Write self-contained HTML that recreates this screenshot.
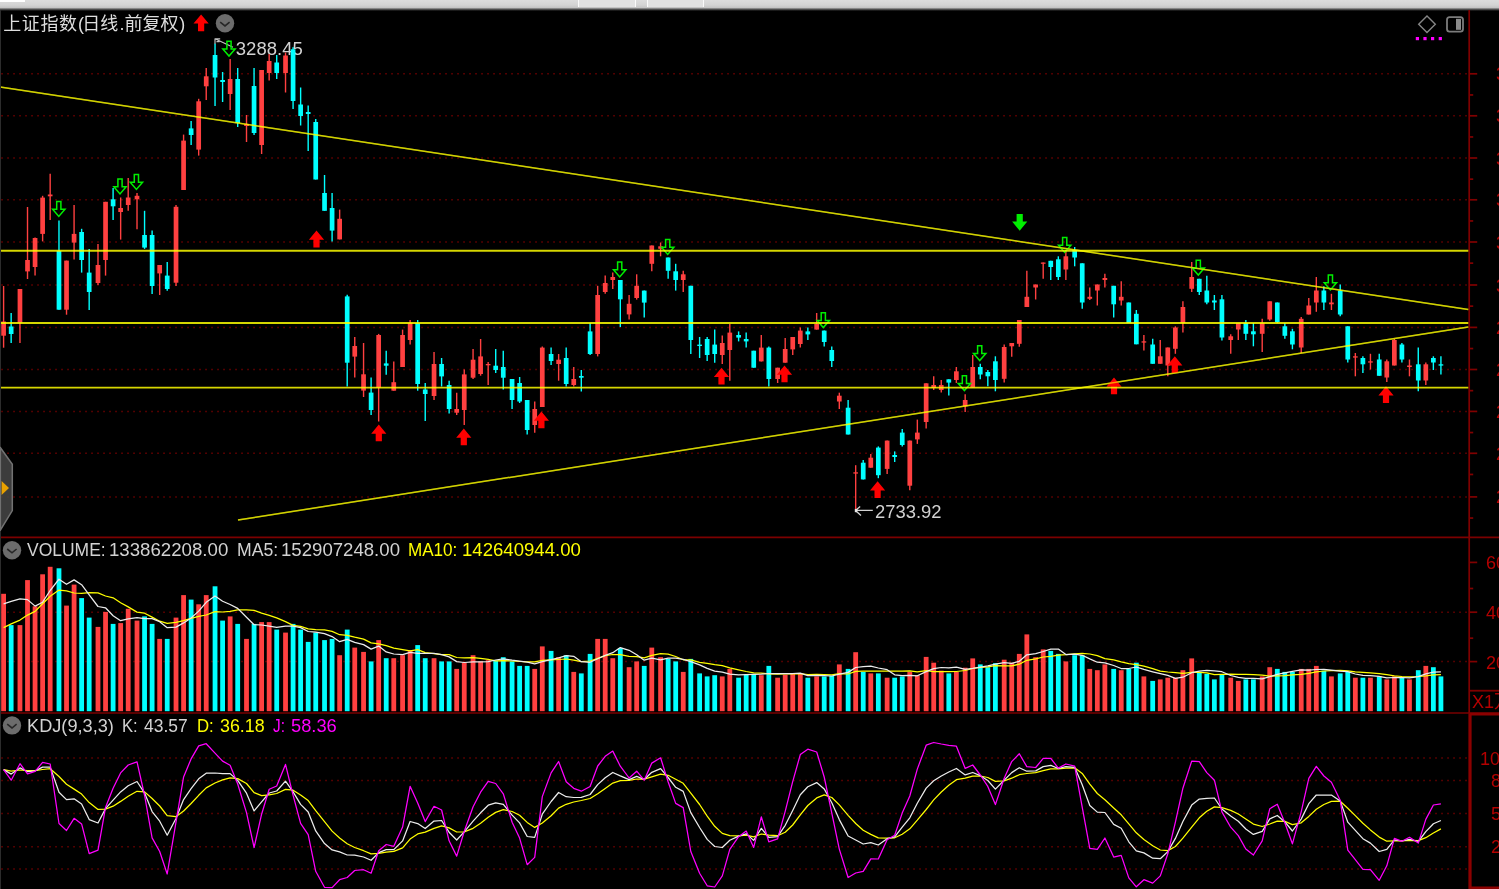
<!DOCTYPE html>
<html lang="zh-CN"><head><meta charset="utf-8"><title>上证指数</title>
<style>
html,body{margin:0;padding:0;background:#000;}
body{width:1499px;height:889px;overflow:hidden;position:relative;font-family:"Liberation Sans","Noto Sans CJK SC",sans-serif;}
#top{position:absolute;left:0;top:0;width:1499px;height:10.5px;background:linear-gradient(#dcdcdc 0,#d4d4d4 45%,#c6c6c6 68%,#5a5a5a 84%,#000 100%);}
#top i{position:absolute;top:0;height:7.3px;background:#e2e2e2;border-left:1.5px solid #fafafa;border-right:1.5px solid #fafafa;box-sizing:border-box;}
svg{position:absolute;left:0;top:0;}
.gd{stroke:#820000;stroke-width:1.5;stroke-dasharray:1.25 4.75;}
.tk{stroke:#800000;stroke-width:1.7;}
.yl{stroke:#ffff00;stroke-width:1.5;stroke-opacity:.6;}
.yh{stroke:#ffff00;stroke-width:1.9;stroke-opacity:.84;}
.t{position:absolute;left:0;white-space:nowrap;color:#d2d2d2;font-size:19.0px;line-height:24px;height:24px;}
.t span{position:absolute;top:0;transform-origin:0 0;display:block;}
.y{color:#ffff00;} .m{color:#ff00ff;} .r{color:#b40000;}
#title{left:3.3px;top:12.1px;font-size:18px;line-height:24px;color:#dedede;font-weight:400;}
#title b{font-weight:400;}
</style></head><body>
<div id="top"><i style="left:0;width:25px;background:#fff;height:1.5px;border:0"></i><i style="left:578px;width:58px"></i><i style="left:647px;width:57px"></i></div>
<svg width="1499" height="889" viewBox="0 0 1499 889">
<line x1="1.4" y1="73.80" x2="1468" y2="73.80" class="gd"/>
<line x1="1.4" y1="115.80" x2="1468" y2="115.80" class="gd"/>
<line x1="1.4" y1="158.00" x2="1468" y2="158.00" class="gd"/>
<line x1="1.4" y1="199.80" x2="1468" y2="199.80" class="gd"/>
<line x1="1.4" y1="242.00" x2="1468" y2="242.00" class="gd"/>
<line x1="1.4" y1="285.00" x2="1468" y2="285.00" class="gd"/>
<line x1="1.4" y1="327.40" x2="1468" y2="327.40" class="gd"/>
<line x1="1.4" y1="369.50" x2="1468" y2="369.50" class="gd"/>
<line x1="1.4" y1="411.40" x2="1468" y2="411.40" class="gd"/>
<line x1="1.4" y1="453.30" x2="1468" y2="453.30" class="gd"/>
<line x1="1.4" y1="496.90" x2="1468" y2="496.90" class="gd"/>
<line x1="1.4" y1="612.20" x2="1468" y2="612.20" class="gd"/>
<line x1="1.4" y1="661.60" x2="1468" y2="661.60" class="gd"/>
<line x1="1.4" y1="758.00" x2="1468" y2="758.00" class="gd"/>
<line x1="1.4" y1="780.60" x2="1468" y2="780.60" class="gd"/>
<line x1="1.4" y1="813.60" x2="1468" y2="813.60" class="gd"/>
<line x1="1.4" y1="846.70" x2="1468" y2="846.70" class="gd"/>
<line x1="1.4" y1="869.00" x2="1468" y2="869.00" class="gd"/>
<line x1="1469.2" y1="10" x2="1469.2" y2="713" stroke="#800000" stroke-width="1.7"/>
<path d="M1499 713.8 H1470 V888.2 H1499" fill="none" stroke="#8c0000" stroke-width="3.2"/>
<line x1="0" y1="537.4" x2="1499" y2="537.4" stroke="#7c0000" stroke-width="1.6"/>
<line x1="0" y1="713" x2="1470" y2="713" stroke="#780000" stroke-width="1.7"/>
<line x1="1469.2" y1="73.80" x2="1477.2" y2="73.80" class="tk"/>
<line x1="1469.2" y1="94.95" x2="1473.2" y2="94.95" class="tk"/>
<line x1="1469.2" y1="115.80" x2="1477.2" y2="115.80" class="tk"/>
<line x1="1469.2" y1="136.95" x2="1473.2" y2="136.95" class="tk"/>
<line x1="1469.2" y1="158.00" x2="1477.2" y2="158.00" class="tk"/>
<line x1="1469.2" y1="179.15" x2="1473.2" y2="179.15" class="tk"/>
<line x1="1469.2" y1="199.80" x2="1477.2" y2="199.80" class="tk"/>
<line x1="1469.2" y1="220.95" x2="1473.2" y2="220.95" class="tk"/>
<line x1="1469.2" y1="242.00" x2="1477.2" y2="242.00" class="tk"/>
<line x1="1469.2" y1="263.15" x2="1473.2" y2="263.15" class="tk"/>
<line x1="1469.2" y1="285.00" x2="1477.2" y2="285.00" class="tk"/>
<line x1="1469.2" y1="306.15" x2="1473.2" y2="306.15" class="tk"/>
<line x1="1469.2" y1="327.40" x2="1477.2" y2="327.40" class="tk"/>
<line x1="1469.2" y1="348.55" x2="1473.2" y2="348.55" class="tk"/>
<line x1="1469.2" y1="369.50" x2="1477.2" y2="369.50" class="tk"/>
<line x1="1469.2" y1="390.65" x2="1473.2" y2="390.65" class="tk"/>
<line x1="1469.2" y1="411.40" x2="1477.2" y2="411.40" class="tk"/>
<line x1="1469.2" y1="432.55" x2="1473.2" y2="432.55" class="tk"/>
<line x1="1469.2" y1="453.30" x2="1477.2" y2="453.30" class="tk"/>
<line x1="1469.2" y1="474.45" x2="1473.2" y2="474.45" class="tk"/>
<line x1="1469.2" y1="496.90" x2="1477.2" y2="496.90" class="tk"/>
<line x1="1469.2" y1="518.05" x2="1473.2" y2="518.05" class="tk"/>
<line x1="1469.2" y1="562.4" x2="1477.2" y2="562.4" class="tk"/>
<line x1="1469.2" y1="612.2" x2="1477.2" y2="612.2" class="tk"/>
<line x1="1469.2" y1="661.6" x2="1477.2" y2="661.6" class="tk"/>
<line x1="1469.2" y1="588.5" x2="1473.2" y2="588.5" class="tk"/>
<line x1="1469.2" y1="638.2" x2="1473.2" y2="638.2" class="tk"/>
<line x1="1469.2" y1="690.7" x2="1499" y2="690.7" stroke="#800000" stroke-width="1.8"/>
<path d="M855.4 510.4 H872.8 M855.4 510.4 L860.2 506.6 M855.4 510.4 L861 515.6" stroke="#d2d2d2" stroke-width="1.3" fill="none"/>
<rect x="854.8" y="508.8" width="2.4" height="3.4" fill="#e8e8e8"/>
<path d="M215 38.8 L233 47.3 M214.8 38.8 H220.2 M215 38.6 V44.2 M216.5 41.6 H219.6" stroke="#c4c4c4" stroke-width="1.15" fill="none"/>
<text id="hi" transform="translate(235.83,54.70) scale(0.9746,1)" font-size="19.0" fill="#d2d2d2" font-family="Liberation Sans, sans-serif">3288.45</text>
<text id="lo" transform="translate(875.03,518.20) scale(0.9701,1)" font-size="19.0" fill="#d2d2d2" font-family="Liberation Sans, sans-serif">2733.92</text>
<line x1="3.60" y1="286.0" x2="3.60" y2="347.7" stroke="#ff4040" stroke-width="1.4"/>
<rect x="1.25" y="321.5" width="4.7" height="14.2" fill="#ff4040"/>
<line x1="11.15" y1="313.0" x2="11.15" y2="343.0" stroke="#00ffff" stroke-width="1.4"/>
<rect x="8.80" y="326.5" width="4.7" height="7.5" fill="#00ffff"/>
<line x1="19.96" y1="289.0" x2="19.96" y2="343.0" stroke="#ff4040" stroke-width="1.4"/>
<rect x="17.61" y="289.0" width="4.7" height="33.7" fill="#ff4040"/>
<line x1="27.51" y1="207.0" x2="27.51" y2="279.0" stroke="#ff4040" stroke-width="1.4"/>
<rect x="25.16" y="260.0" width="4.7" height="11.4" fill="#ff4040"/>
<line x1="35.06" y1="237.6" x2="35.06" y2="275.6" stroke="#ff4040" stroke-width="1.4"/>
<rect x="32.71" y="238.0" width="4.7" height="29.0" fill="#ff4040"/>
<line x1="42.62" y1="195.8" x2="42.62" y2="241.4" stroke="#ff4040" stroke-width="1.4"/>
<rect x="40.27" y="197.6" width="4.7" height="36.3" fill="#ff4040"/>
<line x1="50.17" y1="173.8" x2="50.17" y2="220.0" stroke="#ff4040" stroke-width="1.4"/>
<rect x="47.82" y="194.5" width="4.7" height="1.8" fill="#ff4040"/>
<line x1="58.98" y1="220.6" x2="58.98" y2="309.7" stroke="#00ffff" stroke-width="1.4"/>
<rect x="56.63" y="250.9" width="4.7" height="58.8" fill="#00ffff"/>
<line x1="66.53" y1="260.6" x2="66.53" y2="314.7" stroke="#ff4040" stroke-width="1.4"/>
<rect x="64.18" y="260.6" width="4.7" height="49.1" fill="#ff4040"/>
<line x1="74.08" y1="205.0" x2="74.08" y2="259.4" stroke="#ff4040" stroke-width="1.4"/>
<rect x="71.73" y="233.9" width="4.7" height="8.7" fill="#ff4040"/>
<line x1="81.63" y1="228.8" x2="81.63" y2="272.6" stroke="#00ffff" stroke-width="1.4"/>
<rect x="79.28" y="232.0" width="4.7" height="28.0" fill="#00ffff"/>
<line x1="89.18" y1="248.9" x2="89.18" y2="310.0" stroke="#00ffff" stroke-width="1.4"/>
<rect x="86.83" y="272.6" width="4.7" height="19.4" fill="#00ffff"/>
<line x1="97.99" y1="243.9" x2="97.99" y2="285.0" stroke="#ff4040" stroke-width="1.4"/>
<rect x="95.64" y="265.0" width="4.7" height="18.0" fill="#ff4040"/>
<line x1="105.55" y1="201.8" x2="105.55" y2="275.6" stroke="#ff4040" stroke-width="1.4"/>
<rect x="103.20" y="201.8" width="4.7" height="58.2" fill="#ff4040"/>
<line x1="113.10" y1="188.0" x2="113.10" y2="220.0" stroke="#00ffff" stroke-width="1.4"/>
<rect x="110.75" y="199.3" width="4.7" height="7.0" fill="#00ffff"/>
<line x1="120.65" y1="197.5" x2="120.65" y2="239.6" stroke="#ff4040" stroke-width="1.4"/>
<rect x="118.30" y="208.0" width="4.7" height="4.0" fill="#ff4040"/>
<line x1="128.20" y1="178.0" x2="128.20" y2="210.8" stroke="#ff4040" stroke-width="1.4"/>
<rect x="125.85" y="197.5" width="4.7" height="7.5" fill="#ff4040"/>
<line x1="137.01" y1="193.0" x2="137.01" y2="229.3" stroke="#ff4040" stroke-width="1.4"/>
<rect x="134.66" y="195.8" width="4.7" height="3.5" fill="#ff4040"/>
<line x1="144.56" y1="210.8" x2="144.56" y2="248.9" stroke="#00ffff" stroke-width="1.4"/>
<rect x="142.21" y="235.0" width="4.7" height="12.6" fill="#00ffff"/>
<line x1="152.11" y1="230.6" x2="152.11" y2="294.0" stroke="#00ffff" stroke-width="1.4"/>
<rect x="149.76" y="235.0" width="4.7" height="51.0" fill="#00ffff"/>
<line x1="159.67" y1="265.0" x2="159.67" y2="295.0" stroke="#ff4040" stroke-width="1.4"/>
<rect x="157.32" y="265.0" width="4.7" height="8.4" fill="#ff4040"/>
<line x1="167.22" y1="262.0" x2="167.22" y2="290.7" stroke="#00ffff" stroke-width="1.4"/>
<rect x="164.87" y="275.6" width="4.7" height="13.4" fill="#00ffff"/>
<line x1="176.03" y1="205.0" x2="176.03" y2="286.0" stroke="#ff4040" stroke-width="1.4"/>
<rect x="173.68" y="206.8" width="4.7" height="75.9" fill="#ff4040"/>
<line x1="183.58" y1="134.6" x2="183.58" y2="190.0" stroke="#ff4040" stroke-width="1.4"/>
<rect x="181.23" y="140.6" width="4.7" height="49.4" fill="#ff4040"/>
<line x1="191.13" y1="121.0" x2="191.13" y2="145.0" stroke="#00ffff" stroke-width="1.4"/>
<rect x="188.78" y="128.4" width="4.7" height="6.6" fill="#00ffff"/>
<line x1="198.68" y1="98.8" x2="198.68" y2="155.6" stroke="#ff4040" stroke-width="1.4"/>
<rect x="196.33" y="101.3" width="4.7" height="48.3" fill="#ff4040"/>
<line x1="206.23" y1="68.0" x2="206.23" y2="100.0" stroke="#ff4040" stroke-width="1.4"/>
<rect x="203.88" y="76.3" width="4.7" height="10.0" fill="#ff4040"/>
<line x1="215.04" y1="43.8" x2="215.04" y2="106.0" stroke="#00ffff" stroke-width="1.4"/>
<rect x="212.69" y="55.0" width="4.7" height="22.5" fill="#00ffff"/>
<line x1="222.60" y1="72.0" x2="222.60" y2="102.0" stroke="#00ffff" stroke-width="1.4"/>
<rect x="220.25" y="80.0" width="4.7" height="2.0" fill="#00ffff"/>
<line x1="230.15" y1="59.0" x2="230.15" y2="110.0" stroke="#ff4040" stroke-width="1.4"/>
<rect x="227.80" y="79.0" width="4.7" height="15.0" fill="#ff4040"/>
<line x1="237.70" y1="68.0" x2="237.70" y2="127.0" stroke="#00ffff" stroke-width="1.4"/>
<rect x="235.35" y="79.0" width="4.7" height="44.0" fill="#00ffff"/>
<line x1="246.51" y1="115.0" x2="246.51" y2="142.0" stroke="#ff4040" stroke-width="1.4"/>
<rect x="244.16" y="124.0" width="4.7" height="2.0" fill="#ff4040"/>
<line x1="254.06" y1="68.0" x2="254.06" y2="135.0" stroke="#00ffff" stroke-width="1.4"/>
<rect x="251.71" y="86.0" width="4.7" height="47.0" fill="#00ffff"/>
<line x1="261.61" y1="70.0" x2="261.61" y2="154.0" stroke="#ff4040" stroke-width="1.4"/>
<rect x="259.26" y="70.0" width="4.7" height="75.0" fill="#ff4040"/>
<line x1="269.16" y1="54.0" x2="269.16" y2="80.5" stroke="#ff4040" stroke-width="1.4"/>
<rect x="266.81" y="61.0" width="4.7" height="12.0" fill="#ff4040"/>
<line x1="276.72" y1="55.0" x2="276.72" y2="79.0" stroke="#00ffff" stroke-width="1.4"/>
<rect x="274.37" y="62.5" width="4.7" height="10.5" fill="#00ffff"/>
<line x1="285.53" y1="52.5" x2="285.53" y2="92.5" stroke="#ff4040" stroke-width="1.4"/>
<rect x="283.18" y="55.5" width="4.7" height="17.5" fill="#ff4040"/>
<line x1="293.08" y1="47.2" x2="293.08" y2="109.0" stroke="#00ffff" stroke-width="1.4"/>
<rect x="290.73" y="49.3" width="4.7" height="51.7" fill="#00ffff"/>
<line x1="300.63" y1="87.5" x2="300.63" y2="125.5" stroke="#00ffff" stroke-width="1.4"/>
<rect x="298.28" y="104.5" width="4.7" height="11.5" fill="#00ffff"/>
<line x1="308.18" y1="105.5" x2="308.18" y2="151.0" stroke="#00ffff" stroke-width="1.4"/>
<rect x="305.83" y="112.0" width="4.7" height="2.0" fill="#00ffff"/>
<line x1="315.73" y1="119.0" x2="315.73" y2="179.5" stroke="#00ffff" stroke-width="1.4"/>
<rect x="313.38" y="122.0" width="4.7" height="57.5" fill="#00ffff"/>
<line x1="324.54" y1="175.0" x2="324.54" y2="210.8" stroke="#00ffff" stroke-width="1.4"/>
<rect x="322.19" y="193.0" width="4.7" height="17.8" fill="#00ffff"/>
<line x1="332.09" y1="193.0" x2="332.09" y2="241.4" stroke="#00ffff" stroke-width="1.4"/>
<rect x="329.74" y="208.0" width="4.7" height="22.6" fill="#00ffff"/>
<line x1="339.65" y1="209.6" x2="339.65" y2="239.4" stroke="#ff4040" stroke-width="1.4"/>
<rect x="337.30" y="218.8" width="4.7" height="20.6" fill="#ff4040"/>
<line x1="347.20" y1="294.7" x2="347.20" y2="386.4" stroke="#00ffff" stroke-width="1.4"/>
<rect x="344.85" y="296.4" width="4.7" height="66.3" fill="#00ffff"/>
<line x1="354.75" y1="337.0" x2="354.75" y2="377.6" stroke="#ff4040" stroke-width="1.4"/>
<rect x="352.40" y="346.0" width="4.7" height="10.6" fill="#ff4040"/>
<line x1="363.56" y1="343.0" x2="363.56" y2="397.0" stroke="#ff4040" stroke-width="1.4"/>
<rect x="361.21" y="374.3" width="4.7" height="16.3" fill="#ff4040"/>
<line x1="371.11" y1="377.6" x2="371.11" y2="415.0" stroke="#00ffff" stroke-width="1.4"/>
<rect x="368.76" y="392.6" width="4.7" height="17.4" fill="#00ffff"/>
<line x1="378.66" y1="333.9" x2="378.66" y2="421.5" stroke="#ff4040" stroke-width="1.4"/>
<rect x="376.31" y="335.0" width="4.7" height="52.7" fill="#ff4040"/>
<line x1="386.21" y1="350.7" x2="386.21" y2="374.7" stroke="#00ffff" stroke-width="1.4"/>
<rect x="383.86" y="363.4" width="4.7" height="2.3" fill="#00ffff"/>
<line x1="393.77" y1="361.4" x2="393.77" y2="390.7" stroke="#ff4040" stroke-width="1.4"/>
<rect x="391.42" y="382.2" width="4.7" height="8.5" fill="#ff4040"/>
<line x1="402.58" y1="329.6" x2="402.58" y2="367.0" stroke="#ff4040" stroke-width="1.4"/>
<rect x="400.23" y="335.0" width="4.7" height="32.0" fill="#ff4040"/>
<line x1="410.13" y1="320.0" x2="410.13" y2="344.6" stroke="#ff4040" stroke-width="1.4"/>
<rect x="407.78" y="323.0" width="4.7" height="17.0" fill="#ff4040"/>
<line x1="417.68" y1="320.0" x2="417.68" y2="390.7" stroke="#00ffff" stroke-width="1.4"/>
<rect x="415.33" y="323.0" width="4.7" height="61.0" fill="#00ffff"/>
<line x1="425.23" y1="383.0" x2="425.23" y2="421.0" stroke="#00ffff" stroke-width="1.4"/>
<rect x="422.88" y="389.5" width="4.7" height="4.5" fill="#00ffff"/>
<line x1="434.04" y1="352.0" x2="434.04" y2="400.0" stroke="#ff4040" stroke-width="1.4"/>
<rect x="431.69" y="364.0" width="4.7" height="32.0" fill="#ff4040"/>
<line x1="441.59" y1="358.0" x2="441.59" y2="386.5" stroke="#00ffff" stroke-width="1.4"/>
<rect x="439.24" y="364.0" width="4.7" height="12.4" fill="#00ffff"/>
<line x1="449.14" y1="380.7" x2="449.14" y2="413.5" stroke="#00ffff" stroke-width="1.4"/>
<rect x="446.79" y="385.0" width="4.7" height="24.0" fill="#00ffff"/>
<line x1="456.70" y1="392.7" x2="456.70" y2="415.0" stroke="#ff4040" stroke-width="1.4"/>
<rect x="454.35" y="409.0" width="4.7" height="3.7" fill="#ff4040"/>
<line x1="464.25" y1="369.4" x2="464.25" y2="425.0" stroke="#ff4040" stroke-width="1.4"/>
<rect x="461.90" y="374.4" width="4.7" height="35.6" fill="#ff4040"/>
<line x1="473.06" y1="349.0" x2="473.06" y2="379.0" stroke="#ff4040" stroke-width="1.4"/>
<rect x="470.71" y="359.7" width="4.7" height="18.0" fill="#ff4040"/>
<line x1="480.61" y1="339.0" x2="480.61" y2="375.7" stroke="#ff4040" stroke-width="1.4"/>
<rect x="478.26" y="356.4" width="4.7" height="17.6" fill="#ff4040"/>
<line x1="488.16" y1="362.0" x2="488.16" y2="385.0" stroke="#ff4040" stroke-width="1.4"/>
<rect x="485.81" y="364.0" width="4.7" height="1.3" fill="#ff4040"/>
<line x1="495.71" y1="349.0" x2="495.71" y2="373.0" stroke="#00ffff" stroke-width="1.4"/>
<rect x="493.36" y="365.7" width="4.7" height="4.3" fill="#00ffff"/>
<line x1="503.26" y1="350.7" x2="503.26" y2="389.5" stroke="#00ffff" stroke-width="1.4"/>
<rect x="500.91" y="367.0" width="4.7" height="10.7" fill="#00ffff"/>
<line x1="512.07" y1="379.0" x2="512.07" y2="409.0" stroke="#00ffff" stroke-width="1.4"/>
<rect x="509.72" y="379.0" width="4.7" height="21.0" fill="#00ffff"/>
<line x1="519.63" y1="377.0" x2="519.63" y2="403.0" stroke="#00ffff" stroke-width="1.4"/>
<rect x="517.28" y="383.0" width="4.7" height="18.5" fill="#00ffff"/>
<line x1="527.18" y1="400.0" x2="527.18" y2="434.5" stroke="#00ffff" stroke-width="1.4"/>
<rect x="524.83" y="400.0" width="4.7" height="30.0" fill="#00ffff"/>
<line x1="534.73" y1="401.5" x2="534.73" y2="432.8" stroke="#ff4040" stroke-width="1.4"/>
<rect x="532.38" y="409.0" width="4.7" height="16.0" fill="#ff4040"/>
<line x1="542.28" y1="346.4" x2="542.28" y2="407.0" stroke="#ff4040" stroke-width="1.4"/>
<rect x="539.93" y="347.6" width="4.7" height="59.4" fill="#ff4040"/>
<line x1="551.09" y1="347.6" x2="551.09" y2="365.0" stroke="#00ffff" stroke-width="1.4"/>
<rect x="548.74" y="354.0" width="4.7" height="7.0" fill="#00ffff"/>
<line x1="558.64" y1="354.0" x2="558.64" y2="380.7" stroke="#ff4040" stroke-width="1.4"/>
<rect x="556.29" y="359.7" width="4.7" height="4.3" fill="#ff4040"/>
<line x1="566.19" y1="347.6" x2="566.19" y2="386.5" stroke="#00ffff" stroke-width="1.4"/>
<rect x="563.84" y="358.0" width="4.7" height="26.0" fill="#00ffff"/>
<line x1="573.75" y1="367.0" x2="573.75" y2="386.5" stroke="#ff4040" stroke-width="1.4"/>
<rect x="571.40" y="379.0" width="4.7" height="6.0" fill="#ff4040"/>
<line x1="581.30" y1="370.0" x2="581.30" y2="391.5" stroke="#00ffff" stroke-width="1.4"/>
<rect x="578.95" y="376.0" width="4.7" height="1.7" fill="#00ffff"/>
<line x1="590.11" y1="323.0" x2="590.11" y2="355.0" stroke="#00ffff" stroke-width="1.4"/>
<rect x="587.76" y="331.4" width="4.7" height="22.6" fill="#00ffff"/>
<line x1="597.66" y1="285.8" x2="597.66" y2="356.4" stroke="#ff4040" stroke-width="1.4"/>
<rect x="595.31" y="295.0" width="4.7" height="59.0" fill="#ff4040"/>
<line x1="605.21" y1="275.6" x2="605.21" y2="293.8" stroke="#ff4040" stroke-width="1.4"/>
<rect x="602.86" y="283.0" width="4.7" height="9.0" fill="#ff4040"/>
<line x1="612.76" y1="272.6" x2="612.76" y2="289.0" stroke="#ff4040" stroke-width="1.4"/>
<rect x="610.41" y="277.0" width="4.7" height="3.0" fill="#ff4040"/>
<line x1="620.31" y1="280.0" x2="620.31" y2="327.0" stroke="#00ffff" stroke-width="1.4"/>
<rect x="617.96" y="280.0" width="4.7" height="19.3" fill="#00ffff"/>
<line x1="629.12" y1="295.0" x2="629.12" y2="319.4" stroke="#ff4040" stroke-width="1.4"/>
<rect x="626.77" y="303.8" width="4.7" height="10.6" fill="#ff4040"/>
<line x1="636.68" y1="274.3" x2="636.68" y2="299.6" stroke="#ff4040" stroke-width="1.4"/>
<rect x="634.33" y="285.8" width="4.7" height="12.2" fill="#ff4040"/>
<line x1="644.23" y1="290.6" x2="644.23" y2="317.6" stroke="#00ffff" stroke-width="1.4"/>
<rect x="641.88" y="290.6" width="4.7" height="12.0" fill="#00ffff"/>
<line x1="651.78" y1="245.5" x2="651.78" y2="271.3" stroke="#ff4040" stroke-width="1.4"/>
<rect x="649.43" y="245.5" width="4.7" height="18.3" fill="#ff4040"/>
<line x1="660.59" y1="242.5" x2="660.59" y2="256.3" stroke="#ff4040" stroke-width="1.4"/>
<rect x="658.24" y="246.3" width="4.7" height="2.5" fill="#ff4040"/>
<line x1="668.14" y1="257.5" x2="668.14" y2="278.8" stroke="#00ffff" stroke-width="1.4"/>
<rect x="665.79" y="257.5" width="4.7" height="13.3" fill="#00ffff"/>
<line x1="675.69" y1="263.8" x2="675.69" y2="290.6" stroke="#00ffff" stroke-width="1.4"/>
<rect x="673.34" y="271.3" width="4.7" height="8.7" fill="#00ffff"/>
<line x1="683.24" y1="270.8" x2="683.24" y2="292.0" stroke="#ff4040" stroke-width="1.4"/>
<rect x="680.89" y="274.3" width="4.7" height="5.7" fill="#ff4040"/>
<line x1="690.80" y1="285.8" x2="690.80" y2="354.0" stroke="#00ffff" stroke-width="1.4"/>
<rect x="688.45" y="285.8" width="4.7" height="54.2" fill="#00ffff"/>
<line x1="699.61" y1="337.0" x2="699.61" y2="358.0" stroke="#00ffff" stroke-width="1.4"/>
<rect x="697.26" y="344.6" width="4.7" height="1.4" fill="#00ffff"/>
<line x1="707.16" y1="337.0" x2="707.16" y2="361.0" stroke="#00ffff" stroke-width="1.4"/>
<rect x="704.81" y="339.0" width="4.7" height="16.0" fill="#00ffff"/>
<line x1="714.71" y1="329.6" x2="714.71" y2="362.7" stroke="#00ffff" stroke-width="1.4"/>
<rect x="712.36" y="344.6" width="4.7" height="9.4" fill="#00ffff"/>
<line x1="722.26" y1="335.6" x2="722.26" y2="364.0" stroke="#ff4040" stroke-width="1.4"/>
<rect x="719.91" y="343.0" width="4.7" height="12.0" fill="#ff4040"/>
<line x1="729.81" y1="323.9" x2="729.81" y2="380.7" stroke="#ff4040" stroke-width="1.4"/>
<rect x="727.46" y="332.6" width="4.7" height="17.4" fill="#ff4040"/>
<line x1="738.62" y1="331.4" x2="738.62" y2="341.4" stroke="#00ffff" stroke-width="1.4"/>
<rect x="736.27" y="335.0" width="4.7" height="2.6" fill="#00ffff"/>
<line x1="746.17" y1="332.6" x2="746.17" y2="347.6" stroke="#00ffff" stroke-width="1.4"/>
<rect x="743.82" y="339.0" width="4.7" height="2.4" fill="#00ffff"/>
<line x1="753.73" y1="350.7" x2="753.73" y2="367.7" stroke="#00ffff" stroke-width="1.4"/>
<rect x="751.38" y="350.7" width="4.7" height="17.0" fill="#00ffff"/>
<line x1="761.28" y1="335.0" x2="761.28" y2="361.4" stroke="#ff4040" stroke-width="1.4"/>
<rect x="758.93" y="347.6" width="4.7" height="13.8" fill="#ff4040"/>
<line x1="768.83" y1="346.4" x2="768.83" y2="386.5" stroke="#00ffff" stroke-width="1.4"/>
<rect x="766.48" y="347.6" width="4.7" height="31.4" fill="#00ffff"/>
<line x1="777.64" y1="367.7" x2="777.64" y2="383.0" stroke="#ff4040" stroke-width="1.4"/>
<rect x="775.29" y="367.7" width="4.7" height="11.3" fill="#ff4040"/>
<line x1="785.19" y1="338.0" x2="785.19" y2="362.7" stroke="#ff4040" stroke-width="1.4"/>
<rect x="782.84" y="349.0" width="4.7" height="13.7" fill="#ff4040"/>
<line x1="792.74" y1="337.0" x2="792.74" y2="355.0" stroke="#ff4040" stroke-width="1.4"/>
<rect x="790.39" y="337.0" width="4.7" height="12.4" fill="#ff4040"/>
<line x1="800.29" y1="327.6" x2="800.29" y2="347.6" stroke="#ff4040" stroke-width="1.4"/>
<rect x="797.94" y="330.6" width="4.7" height="13.4" fill="#ff4040"/>
<line x1="807.85" y1="327.6" x2="807.85" y2="340.0" stroke="#00ffff" stroke-width="1.4"/>
<rect x="805.50" y="331.4" width="4.7" height="3.0" fill="#00ffff"/>
<line x1="816.66" y1="313.0" x2="816.66" y2="329.6" stroke="#ff4040" stroke-width="1.4"/>
<rect x="814.31" y="323.9" width="4.7" height="5.7" fill="#ff4040"/>
<line x1="824.21" y1="330.6" x2="824.21" y2="346.4" stroke="#00ffff" stroke-width="1.4"/>
<rect x="821.86" y="330.6" width="4.7" height="11.4" fill="#00ffff"/>
<line x1="831.76" y1="346.4" x2="831.76" y2="367.0" stroke="#00ffff" stroke-width="1.4"/>
<rect x="829.41" y="350.0" width="4.7" height="11.0" fill="#00ffff"/>
<line x1="839.31" y1="392.7" x2="839.31" y2="409.0" stroke="#ff4040" stroke-width="1.4"/>
<rect x="836.96" y="395.7" width="4.7" height="5.8" fill="#ff4040"/>
<line x1="848.12" y1="400.0" x2="848.12" y2="434.5" stroke="#00ffff" stroke-width="1.4"/>
<rect x="845.77" y="407.7" width="4.7" height="26.8" fill="#00ffff"/>
<line x1="855.67" y1="465.2" x2="855.67" y2="509.0" stroke="#ff4040" stroke-width="1.4"/>
<rect x="853.32" y="472.3" width="4.7" height="1.3" fill="#ff4040"/>
<line x1="863.22" y1="460.0" x2="863.22" y2="479.4" stroke="#00ffff" stroke-width="1.4"/>
<rect x="860.87" y="462.7" width="4.7" height="16.7" fill="#00ffff"/>
<line x1="870.78" y1="453.9" x2="870.78" y2="467.7" stroke="#ff4040" stroke-width="1.4"/>
<rect x="868.43" y="457.7" width="4.7" height="10.0" fill="#ff4040"/>
<line x1="878.33" y1="446.4" x2="878.33" y2="478.2" stroke="#00ffff" stroke-width="1.4"/>
<rect x="875.98" y="447.6" width="4.7" height="27.6" fill="#00ffff"/>
<line x1="887.14" y1="440.6" x2="887.14" y2="473.9" stroke="#ff4040" stroke-width="1.4"/>
<rect x="884.79" y="440.6" width="4.7" height="28.3" fill="#ff4040"/>
<line x1="894.69" y1="451.4" x2="894.69" y2="462.0" stroke="#00ffff" stroke-width="1.4"/>
<rect x="892.34" y="455.0" width="4.7" height="2.0" fill="#00ffff"/>
<line x1="902.24" y1="428.9" x2="902.24" y2="446.4" stroke="#00ffff" stroke-width="1.4"/>
<rect x="899.89" y="432.6" width="4.7" height="12.4" fill="#00ffff"/>
<line x1="909.79" y1="440.6" x2="909.79" y2="490.2" stroke="#ff4040" stroke-width="1.4"/>
<rect x="907.44" y="440.6" width="4.7" height="45.1" fill="#ff4040"/>
<line x1="917.34" y1="419.6" x2="917.34" y2="443.9" stroke="#ff4040" stroke-width="1.4"/>
<rect x="914.99" y="432.6" width="4.7" height="6.8" fill="#ff4040"/>
<line x1="926.15" y1="383.3" x2="926.15" y2="428.4" stroke="#ff4040" stroke-width="1.4"/>
<rect x="923.80" y="383.3" width="4.7" height="38.7" fill="#ff4040"/>
<line x1="933.71" y1="376.3" x2="933.71" y2="390.0" stroke="#ff4040" stroke-width="1.4"/>
<rect x="931.36" y="385.0" width="4.7" height="3.0" fill="#ff4040"/>
<line x1="941.26" y1="380.0" x2="941.26" y2="392.6" stroke="#ff4040" stroke-width="1.4"/>
<rect x="938.91" y="385.0" width="4.7" height="5.0" fill="#ff4040"/>
<line x1="948.81" y1="379.3" x2="948.81" y2="395.6" stroke="#00ffff" stroke-width="1.4"/>
<rect x="946.46" y="379.3" width="4.7" height="3.3" fill="#00ffff"/>
<line x1="956.36" y1="367.0" x2="956.36" y2="383.0" stroke="#ff4040" stroke-width="1.4"/>
<rect x="954.01" y="371.3" width="4.7" height="8.7" fill="#ff4040"/>
<line x1="965.17" y1="394.3" x2="965.17" y2="412.0" stroke="#ff4040" stroke-width="1.4"/>
<rect x="962.82" y="400.0" width="4.7" height="6.3" fill="#ff4040"/>
<line x1="972.72" y1="355.0" x2="972.72" y2="387.5" stroke="#ff4040" stroke-width="1.4"/>
<rect x="970.37" y="367.0" width="4.7" height="20.5" fill="#ff4040"/>
<line x1="980.27" y1="363.8" x2="980.27" y2="379.3" stroke="#00ffff" stroke-width="1.4"/>
<rect x="977.92" y="367.0" width="4.7" height="7.5" fill="#00ffff"/>
<line x1="987.83" y1="370.0" x2="987.83" y2="386.3" stroke="#00ffff" stroke-width="1.4"/>
<rect x="985.48" y="372.0" width="4.7" height="4.3" fill="#00ffff"/>
<line x1="995.38" y1="356.3" x2="995.38" y2="391.3" stroke="#00ffff" stroke-width="1.4"/>
<rect x="993.03" y="361.3" width="4.7" height="18.7" fill="#00ffff"/>
<line x1="1004.19" y1="344.5" x2="1004.19" y2="382.5" stroke="#ff4040" stroke-width="1.4"/>
<rect x="1001.84" y="347.0" width="4.7" height="31.8" fill="#ff4040"/>
<line x1="1011.74" y1="343.0" x2="1011.74" y2="356.8" stroke="#ff4040" stroke-width="1.4"/>
<rect x="1009.39" y="343.0" width="4.7" height="3.3" fill="#ff4040"/>
<line x1="1019.29" y1="320.0" x2="1019.29" y2="346.8" stroke="#ff4040" stroke-width="1.4"/>
<rect x="1016.94" y="320.0" width="4.7" height="23.8" fill="#ff4040"/>
<line x1="1026.84" y1="270.8" x2="1026.84" y2="307.0" stroke="#ff4040" stroke-width="1.4"/>
<rect x="1024.49" y="296.8" width="4.7" height="10.2" fill="#ff4040"/>
<line x1="1035.65" y1="284.5" x2="1035.65" y2="299.5" stroke="#ff4040" stroke-width="1.4"/>
<rect x="1033.30" y="284.5" width="4.7" height="3.0" fill="#ff4040"/>
<line x1="1043.20" y1="262.5" x2="1043.20" y2="278.8" stroke="#ff4040" stroke-width="1.4"/>
<rect x="1040.85" y="262.5" width="4.7" height="1.3" fill="#ff4040"/>
<line x1="1050.76" y1="260.8" x2="1050.76" y2="280.0" stroke="#00ffff" stroke-width="1.4"/>
<rect x="1048.41" y="260.8" width="4.7" height="6.2" fill="#00ffff"/>
<line x1="1058.31" y1="256.3" x2="1058.31" y2="280.0" stroke="#00ffff" stroke-width="1.4"/>
<rect x="1055.96" y="259.3" width="4.7" height="17.7" fill="#00ffff"/>
<line x1="1065.86" y1="250.0" x2="1065.86" y2="280.0" stroke="#ff4040" stroke-width="1.4"/>
<rect x="1063.51" y="256.3" width="4.7" height="13.2" fill="#ff4040"/>
<line x1="1074.67" y1="247.0" x2="1074.67" y2="266.3" stroke="#00ffff" stroke-width="1.4"/>
<rect x="1072.32" y="250.0" width="4.7" height="7.5" fill="#00ffff"/>
<line x1="1082.22" y1="263.3" x2="1082.22" y2="308.8" stroke="#00ffff" stroke-width="1.4"/>
<rect x="1079.87" y="263.3" width="4.7" height="39.2" fill="#00ffff"/>
<line x1="1089.77" y1="287.5" x2="1089.77" y2="300.0" stroke="#ff4040" stroke-width="1.4"/>
<rect x="1087.42" y="296.8" width="4.7" height="2.0" fill="#ff4040"/>
<line x1="1097.32" y1="284.5" x2="1097.32" y2="305.5" stroke="#ff4040" stroke-width="1.4"/>
<rect x="1094.97" y="284.5" width="4.7" height="6.0" fill="#ff4040"/>
<line x1="1104.87" y1="273.8" x2="1104.87" y2="287.5" stroke="#ff4040" stroke-width="1.4"/>
<rect x="1102.52" y="278.0" width="4.7" height="2.0" fill="#ff4040"/>
<line x1="1113.69" y1="285.8" x2="1113.69" y2="317.5" stroke="#00ffff" stroke-width="1.4"/>
<rect x="1111.34" y="285.8" width="4.7" height="18.5" fill="#00ffff"/>
<line x1="1121.24" y1="281.3" x2="1121.24" y2="305.5" stroke="#ff4040" stroke-width="1.4"/>
<rect x="1118.89" y="296.8" width="4.7" height="3.7" fill="#ff4040"/>
<line x1="1128.79" y1="302.5" x2="1128.79" y2="323.0" stroke="#00ffff" stroke-width="1.4"/>
<rect x="1126.44" y="302.5" width="4.7" height="20.5" fill="#00ffff"/>
<line x1="1136.34" y1="310.0" x2="1136.34" y2="344.3" stroke="#00ffff" stroke-width="1.4"/>
<rect x="1133.99" y="313.8" width="4.7" height="30.5" fill="#00ffff"/>
<line x1="1143.89" y1="335.0" x2="1143.89" y2="350.5" stroke="#ff4040" stroke-width="1.4"/>
<rect x="1141.54" y="341.3" width="4.7" height="1.3" fill="#ff4040"/>
<line x1="1152.70" y1="338.8" x2="1152.70" y2="363.8" stroke="#00ffff" stroke-width="1.4"/>
<rect x="1150.35" y="344.5" width="4.7" height="19.3" fill="#00ffff"/>
<line x1="1160.25" y1="340.0" x2="1160.25" y2="363.8" stroke="#ff4040" stroke-width="1.4"/>
<rect x="1157.90" y="356.3" width="4.7" height="7.5" fill="#ff4040"/>
<line x1="1167.80" y1="347.5" x2="1167.80" y2="376.3" stroke="#ff4040" stroke-width="1.4"/>
<rect x="1165.45" y="347.5" width="4.7" height="18.0" fill="#ff4040"/>
<line x1="1175.36" y1="326.3" x2="1175.36" y2="353.8" stroke="#ff4040" stroke-width="1.4"/>
<rect x="1173.01" y="327.5" width="4.7" height="21.3" fill="#ff4040"/>
<line x1="1182.91" y1="301.3" x2="1182.91" y2="332.5" stroke="#ff4040" stroke-width="1.4"/>
<rect x="1180.56" y="307.0" width="4.7" height="16.0" fill="#ff4040"/>
<line x1="1191.72" y1="262.0" x2="1191.72" y2="292.0" stroke="#ff4040" stroke-width="1.4"/>
<rect x="1189.37" y="277.0" width="4.7" height="11.8" fill="#ff4040"/>
<line x1="1199.27" y1="278.8" x2="1199.27" y2="295.0" stroke="#00ffff" stroke-width="1.4"/>
<rect x="1196.92" y="278.8" width="4.7" height="13.2" fill="#00ffff"/>
<line x1="1206.82" y1="275.8" x2="1206.82" y2="304.3" stroke="#00ffff" stroke-width="1.4"/>
<rect x="1204.47" y="290.5" width="4.7" height="12.0" fill="#00ffff"/>
<line x1="1214.37" y1="295.0" x2="1214.37" y2="310.0" stroke="#00ffff" stroke-width="1.4"/>
<rect x="1212.02" y="300.5" width="4.7" height="2.0" fill="#00ffff"/>
<line x1="1221.92" y1="295.0" x2="1221.92" y2="340.5" stroke="#00ffff" stroke-width="1.4"/>
<rect x="1219.57" y="299.3" width="4.7" height="38.2" fill="#00ffff"/>
<line x1="1230.73" y1="334.3" x2="1230.73" y2="353.8" stroke="#ff4040" stroke-width="1.4"/>
<rect x="1228.38" y="336.3" width="4.7" height="3.7" fill="#ff4040"/>
<line x1="1238.29" y1="323.0" x2="1238.29" y2="340.0" stroke="#ff4040" stroke-width="1.4"/>
<rect x="1235.94" y="323.0" width="4.7" height="6.5" fill="#ff4040"/>
<line x1="1245.84" y1="320.0" x2="1245.84" y2="340.0" stroke="#00ffff" stroke-width="1.4"/>
<rect x="1243.49" y="323.0" width="4.7" height="10.8" fill="#00ffff"/>
<line x1="1253.39" y1="323.0" x2="1253.39" y2="346.3" stroke="#00ffff" stroke-width="1.4"/>
<rect x="1251.04" y="331.3" width="4.7" height="3.0" fill="#00ffff"/>
<line x1="1262.20" y1="318.8" x2="1262.20" y2="352.0" stroke="#ff4040" stroke-width="1.4"/>
<rect x="1259.85" y="323.0" width="4.7" height="10.8" fill="#ff4040"/>
<line x1="1269.75" y1="301.3" x2="1269.75" y2="320.8" stroke="#ff4040" stroke-width="1.4"/>
<rect x="1267.40" y="301.3" width="4.7" height="18.2" fill="#ff4040"/>
<line x1="1277.30" y1="302.5" x2="1277.30" y2="323.0" stroke="#00ffff" stroke-width="1.4"/>
<rect x="1274.95" y="302.5" width="4.7" height="19.5" fill="#00ffff"/>
<line x1="1284.85" y1="323.0" x2="1284.85" y2="338.8" stroke="#00ffff" stroke-width="1.4"/>
<rect x="1282.50" y="326.3" width="4.7" height="9.5" fill="#00ffff"/>
<line x1="1292.41" y1="328.8" x2="1292.41" y2="349.3" stroke="#00ffff" stroke-width="1.4"/>
<rect x="1290.06" y="331.3" width="4.7" height="13.2" fill="#00ffff"/>
<line x1="1301.22" y1="317.0" x2="1301.22" y2="353.0" stroke="#ff4040" stroke-width="1.4"/>
<rect x="1298.87" y="318.8" width="4.7" height="28.7" fill="#ff4040"/>
<line x1="1308.77" y1="298.0" x2="1308.77" y2="314.5" stroke="#ff4040" stroke-width="1.4"/>
<rect x="1306.42" y="305.5" width="4.7" height="9.0" fill="#ff4040"/>
<line x1="1316.32" y1="277.0" x2="1316.32" y2="311.8" stroke="#ff4040" stroke-width="1.4"/>
<rect x="1313.97" y="290.5" width="4.7" height="12.0" fill="#ff4040"/>
<line x1="1323.87" y1="286.3" x2="1323.87" y2="310.0" stroke="#00ffff" stroke-width="1.4"/>
<rect x="1321.52" y="290.5" width="4.7" height="12.0" fill="#00ffff"/>
<line x1="1331.42" y1="293.8" x2="1331.42" y2="310.0" stroke="#ff4040" stroke-width="1.4"/>
<rect x="1329.07" y="302.5" width="4.7" height="1.8" fill="#ff4040"/>
<line x1="1340.23" y1="284.5" x2="1340.23" y2="316.3" stroke="#00ffff" stroke-width="1.4"/>
<rect x="1337.88" y="290.5" width="4.7" height="24.0" fill="#00ffff"/>
<line x1="1347.78" y1="326.3" x2="1347.78" y2="362.5" stroke="#00ffff" stroke-width="1.4"/>
<rect x="1345.43" y="326.3" width="4.7" height="33.2" fill="#00ffff"/>
<line x1="1355.34" y1="353.0" x2="1355.34" y2="376.3" stroke="#ff4040" stroke-width="1.4"/>
<rect x="1352.99" y="356.3" width="4.7" height="1.3" fill="#ff4040"/>
<line x1="1362.89" y1="356.3" x2="1362.89" y2="373.0" stroke="#00ffff" stroke-width="1.4"/>
<rect x="1360.54" y="358.0" width="4.7" height="6.3" fill="#00ffff"/>
<line x1="1370.44" y1="353.8" x2="1370.44" y2="369.5" stroke="#ff4040" stroke-width="1.4"/>
<rect x="1368.09" y="361.3" width="4.7" height="1.3" fill="#ff4040"/>
<line x1="1379.25" y1="353.8" x2="1379.25" y2="375.8" stroke="#00ffff" stroke-width="1.4"/>
<rect x="1376.90" y="359.5" width="4.7" height="16.3" fill="#00ffff"/>
<line x1="1386.80" y1="359.5" x2="1386.80" y2="382.0" stroke="#ff4040" stroke-width="1.4"/>
<rect x="1384.45" y="361.3" width="4.7" height="16.2" fill="#ff4040"/>
<line x1="1394.35" y1="338.8" x2="1394.35" y2="365.5" stroke="#ff4040" stroke-width="1.4"/>
<rect x="1392.00" y="340.0" width="4.7" height="25.5" fill="#ff4040"/>
<line x1="1401.90" y1="343.0" x2="1401.90" y2="362.5" stroke="#00ffff" stroke-width="1.4"/>
<rect x="1399.55" y="344.5" width="4.7" height="15.0" fill="#00ffff"/>
<line x1="1409.46" y1="359.5" x2="1409.46" y2="376.3" stroke="#ff4040" stroke-width="1.4"/>
<rect x="1407.11" y="365.5" width="4.7" height="1.5" fill="#ff4040"/>
<line x1="1418.27" y1="347.5" x2="1418.27" y2="391.3" stroke="#00ffff" stroke-width="1.4"/>
<rect x="1415.92" y="364.3" width="4.7" height="16.2" fill="#00ffff"/>
<line x1="1425.82" y1="362.5" x2="1425.82" y2="385.0" stroke="#ff4040" stroke-width="1.4"/>
<rect x="1423.47" y="364.3" width="4.7" height="16.2" fill="#ff4040"/>
<line x1="1433.37" y1="356.3" x2="1433.37" y2="370.0" stroke="#00ffff" stroke-width="1.4"/>
<rect x="1431.02" y="358.0" width="4.7" height="4.5" fill="#00ffff"/>
<line x1="1440.92" y1="356.3" x2="1440.92" y2="374.5" stroke="#00ffff" stroke-width="1.4"/>
<rect x="1438.57" y="364.3" width="4.7" height="1.3" fill="#00ffff"/>
<rect x="1.20" y="593.8" width="4.8" height="117.4" fill="#ff4040"/>
<rect x="8.75" y="625.1" width="4.8" height="86.1" fill="#00ffff"/>
<rect x="17.56" y="625.1" width="4.8" height="86.1" fill="#ff4040"/>
<rect x="25.11" y="580.1" width="4.8" height="131.1" fill="#ff4040"/>
<rect x="32.66" y="606.3" width="4.8" height="104.9" fill="#ff4040"/>
<rect x="40.22" y="574.3" width="4.8" height="136.9" fill="#ff4040"/>
<rect x="47.77" y="566.8" width="4.8" height="144.4" fill="#ff4040"/>
<rect x="56.58" y="568.3" width="4.8" height="142.9" fill="#00ffff"/>
<rect x="64.13" y="605.6" width="4.8" height="105.6" fill="#ff4040"/>
<rect x="71.68" y="584.6" width="4.8" height="126.6" fill="#ff4040"/>
<rect x="79.23" y="598.1" width="4.8" height="113.1" fill="#00ffff"/>
<rect x="86.78" y="617.6" width="4.8" height="93.6" fill="#00ffff"/>
<rect x="95.59" y="626.9" width="4.8" height="84.3" fill="#ff4040"/>
<rect x="103.15" y="611.9" width="4.8" height="99.3" fill="#ff4040"/>
<rect x="110.70" y="623.9" width="4.8" height="87.3" fill="#00ffff"/>
<rect x="118.25" y="623.1" width="4.8" height="88.1" fill="#ff4040"/>
<rect x="125.80" y="608.8" width="4.8" height="102.4" fill="#ff4040"/>
<rect x="134.61" y="620.6" width="4.8" height="90.6" fill="#ff4040"/>
<rect x="142.16" y="616.4" width="4.8" height="94.8" fill="#00ffff"/>
<rect x="149.71" y="623.9" width="4.8" height="87.3" fill="#00ffff"/>
<rect x="157.27" y="638.9" width="4.8" height="72.3" fill="#ff4040"/>
<rect x="164.82" y="638.9" width="4.8" height="72.3" fill="#00ffff"/>
<rect x="173.63" y="617.6" width="4.8" height="93.6" fill="#ff4040"/>
<rect x="181.18" y="595.1" width="4.8" height="116.1" fill="#ff4040"/>
<rect x="188.73" y="599.6" width="4.8" height="111.6" fill="#00ffff"/>
<rect x="196.28" y="604.3" width="4.8" height="106.9" fill="#ff4040"/>
<rect x="203.83" y="595.1" width="4.8" height="116.1" fill="#ff4040"/>
<rect x="212.64" y="586.3" width="4.8" height="124.9" fill="#00ffff"/>
<rect x="220.20" y="620.6" width="4.8" height="90.6" fill="#00ffff"/>
<rect x="227.75" y="616.4" width="4.8" height="94.8" fill="#ff4040"/>
<rect x="235.30" y="623.9" width="4.8" height="87.3" fill="#00ffff"/>
<rect x="244.11" y="638.9" width="4.8" height="72.3" fill="#ff4040"/>
<rect x="251.66" y="623.9" width="4.8" height="87.3" fill="#00ffff"/>
<rect x="259.21" y="622.1" width="4.8" height="89.1" fill="#ff4040"/>
<rect x="266.76" y="622.1" width="4.8" height="89.1" fill="#ff4040"/>
<rect x="274.32" y="629.6" width="4.8" height="81.6" fill="#00ffff"/>
<rect x="283.13" y="632.6" width="4.8" height="78.6" fill="#ff4040"/>
<rect x="290.68" y="623.9" width="4.8" height="87.3" fill="#00ffff"/>
<rect x="298.23" y="629.6" width="4.8" height="81.6" fill="#00ffff"/>
<rect x="305.78" y="641.9" width="4.8" height="69.3" fill="#00ffff"/>
<rect x="313.33" y="632.6" width="4.8" height="78.6" fill="#00ffff"/>
<rect x="322.14" y="640.1" width="4.8" height="71.1" fill="#00ffff"/>
<rect x="329.69" y="638.9" width="4.8" height="72.3" fill="#00ffff"/>
<rect x="337.25" y="655.2" width="4.8" height="56.0" fill="#ff4040"/>
<rect x="344.80" y="629.6" width="4.8" height="81.6" fill="#00ffff"/>
<rect x="352.35" y="647.6" width="4.8" height="63.6" fill="#ff4040"/>
<rect x="361.16" y="651.9" width="4.8" height="59.3" fill="#ff4040"/>
<rect x="368.71" y="661.4" width="4.8" height="49.8" fill="#00ffff"/>
<rect x="376.26" y="640.1" width="4.8" height="71.1" fill="#ff4040"/>
<rect x="383.81" y="658.2" width="4.8" height="53.0" fill="#00ffff"/>
<rect x="391.37" y="658.2" width="4.8" height="53.0" fill="#ff4040"/>
<rect x="400.18" y="655.2" width="4.8" height="56.0" fill="#ff4040"/>
<rect x="407.73" y="650.2" width="4.8" height="61.0" fill="#ff4040"/>
<rect x="415.28" y="645.1" width="4.8" height="66.1" fill="#00ffff"/>
<rect x="422.83" y="658.2" width="4.8" height="53.0" fill="#00ffff"/>
<rect x="431.64" y="658.2" width="4.8" height="53.0" fill="#ff4040"/>
<rect x="439.19" y="661.4" width="4.8" height="49.8" fill="#00ffff"/>
<rect x="446.74" y="661.4" width="4.8" height="49.8" fill="#00ffff"/>
<rect x="454.30" y="668.9" width="4.8" height="42.3" fill="#ff4040"/>
<rect x="461.85" y="662.7" width="4.8" height="48.5" fill="#ff4040"/>
<rect x="470.66" y="655.2" width="4.8" height="56.0" fill="#ff4040"/>
<rect x="478.21" y="661.4" width="4.8" height="49.8" fill="#ff4040"/>
<rect x="485.76" y="660.2" width="4.8" height="51.0" fill="#ff4040"/>
<rect x="493.31" y="660.7" width="4.8" height="50.5" fill="#00ffff"/>
<rect x="500.86" y="657.2" width="4.8" height="54.0" fill="#00ffff"/>
<rect x="509.67" y="661.4" width="4.8" height="49.8" fill="#00ffff"/>
<rect x="517.23" y="665.9" width="4.8" height="45.3" fill="#00ffff"/>
<rect x="524.78" y="665.9" width="4.8" height="45.3" fill="#00ffff"/>
<rect x="532.33" y="668.9" width="4.8" height="42.3" fill="#ff4040"/>
<rect x="539.88" y="646.4" width="4.8" height="64.8" fill="#ff4040"/>
<rect x="548.69" y="650.9" width="4.8" height="60.3" fill="#00ffff"/>
<rect x="556.24" y="657.2" width="4.8" height="54.0" fill="#ff4040"/>
<rect x="563.79" y="655.2" width="4.8" height="56.0" fill="#00ffff"/>
<rect x="571.35" y="671.9" width="4.8" height="39.3" fill="#ff4040"/>
<rect x="578.90" y="673.4" width="4.8" height="37.8" fill="#00ffff"/>
<rect x="587.71" y="653.9" width="4.8" height="57.3" fill="#00ffff"/>
<rect x="595.26" y="638.9" width="4.8" height="72.3" fill="#ff4040"/>
<rect x="602.81" y="638.9" width="4.8" height="72.3" fill="#ff4040"/>
<rect x="610.36" y="658.2" width="4.8" height="53.0" fill="#ff4040"/>
<rect x="617.91" y="648.1" width="4.8" height="63.1" fill="#00ffff"/>
<rect x="626.72" y="667.2" width="4.8" height="44.0" fill="#ff4040"/>
<rect x="634.28" y="661.4" width="4.8" height="49.8" fill="#ff4040"/>
<rect x="641.83" y="665.9" width="4.8" height="45.3" fill="#00ffff"/>
<rect x="649.38" y="647.6" width="4.8" height="63.6" fill="#ff4040"/>
<rect x="658.19" y="657.2" width="4.8" height="54.0" fill="#ff4040"/>
<rect x="665.74" y="658.9" width="4.8" height="52.3" fill="#00ffff"/>
<rect x="673.29" y="661.4" width="4.8" height="49.8" fill="#00ffff"/>
<rect x="680.84" y="671.9" width="4.8" height="39.3" fill="#ff4040"/>
<rect x="688.40" y="658.9" width="4.8" height="52.3" fill="#00ffff"/>
<rect x="697.21" y="673.4" width="4.8" height="37.8" fill="#00ffff"/>
<rect x="704.76" y="676.4" width="4.8" height="34.8" fill="#00ffff"/>
<rect x="712.31" y="675.2" width="4.8" height="36.0" fill="#00ffff"/>
<rect x="719.86" y="676.4" width="4.8" height="34.8" fill="#ff4040"/>
<rect x="727.41" y="668.9" width="4.8" height="42.3" fill="#ff4040"/>
<rect x="736.22" y="677.7" width="4.8" height="33.5" fill="#00ffff"/>
<rect x="743.77" y="674.7" width="4.8" height="36.5" fill="#00ffff"/>
<rect x="751.33" y="673.9" width="4.8" height="37.3" fill="#00ffff"/>
<rect x="758.88" y="675.2" width="4.8" height="36.0" fill="#ff4040"/>
<rect x="766.43" y="665.9" width="4.8" height="45.3" fill="#00ffff"/>
<rect x="775.24" y="677.7" width="4.8" height="33.5" fill="#ff4040"/>
<rect x="782.79" y="674.7" width="4.8" height="36.5" fill="#ff4040"/>
<rect x="790.34" y="673.9" width="4.8" height="37.3" fill="#ff4040"/>
<rect x="797.89" y="673.9" width="4.8" height="37.3" fill="#ff4040"/>
<rect x="805.45" y="677.7" width="4.8" height="33.5" fill="#00ffff"/>
<rect x="814.26" y="676.4" width="4.8" height="34.8" fill="#ff4040"/>
<rect x="821.81" y="676.4" width="4.8" height="34.8" fill="#00ffff"/>
<rect x="829.36" y="675.7" width="4.8" height="35.5" fill="#00ffff"/>
<rect x="836.91" y="664.4" width="4.8" height="46.8" fill="#ff4040"/>
<rect x="845.72" y="668.9" width="4.8" height="42.3" fill="#00ffff"/>
<rect x="853.27" y="652.2" width="4.8" height="59.0" fill="#ff4040"/>
<rect x="860.82" y="671.9" width="4.8" height="39.3" fill="#00ffff"/>
<rect x="868.38" y="673.4" width="4.8" height="37.8" fill="#ff4040"/>
<rect x="875.93" y="673.4" width="4.8" height="37.8" fill="#00ffff"/>
<rect x="884.74" y="677.7" width="4.8" height="33.5" fill="#ff4040"/>
<rect x="892.29" y="677.7" width="4.8" height="33.5" fill="#00ffff"/>
<rect x="899.84" y="676.4" width="4.8" height="34.8" fill="#00ffff"/>
<rect x="907.39" y="671.9" width="4.8" height="39.3" fill="#ff4040"/>
<rect x="914.94" y="675.2" width="4.8" height="36.0" fill="#ff4040"/>
<rect x="923.75" y="656.9" width="4.8" height="54.3" fill="#ff4040"/>
<rect x="931.31" y="662.7" width="4.8" height="48.5" fill="#ff4040"/>
<rect x="938.86" y="670.7" width="4.8" height="40.5" fill="#ff4040"/>
<rect x="946.41" y="673.4" width="4.8" height="37.8" fill="#00ffff"/>
<rect x="953.96" y="671.9" width="4.8" height="39.3" fill="#ff4040"/>
<rect x="962.77" y="667.7" width="4.8" height="43.5" fill="#ff4040"/>
<rect x="970.32" y="658.4" width="4.8" height="52.8" fill="#ff4040"/>
<rect x="977.87" y="664.4" width="4.8" height="46.8" fill="#00ffff"/>
<rect x="985.43" y="667.2" width="4.8" height="44.0" fill="#00ffff"/>
<rect x="992.98" y="663.2" width="4.8" height="48.0" fill="#00ffff"/>
<rect x="1001.79" y="659.7" width="4.8" height="51.5" fill="#ff4040"/>
<rect x="1009.34" y="662.7" width="4.8" height="48.5" fill="#ff4040"/>
<rect x="1016.89" y="653.9" width="4.8" height="57.3" fill="#ff4040"/>
<rect x="1024.44" y="634.4" width="4.8" height="76.8" fill="#ff4040"/>
<rect x="1033.25" y="657.2" width="4.8" height="54.0" fill="#ff4040"/>
<rect x="1040.80" y="649.4" width="4.8" height="61.8" fill="#ff4040"/>
<rect x="1048.36" y="650.9" width="4.8" height="60.3" fill="#00ffff"/>
<rect x="1055.91" y="653.9" width="4.8" height="57.3" fill="#00ffff"/>
<rect x="1063.46" y="661.4" width="4.8" height="49.8" fill="#ff4040"/>
<rect x="1072.27" y="655.2" width="4.8" height="56.0" fill="#00ffff"/>
<rect x="1079.82" y="655.2" width="4.8" height="56.0" fill="#00ffff"/>
<rect x="1087.37" y="668.9" width="4.8" height="42.3" fill="#ff4040"/>
<rect x="1094.92" y="670.2" width="4.8" height="41.0" fill="#ff4040"/>
<rect x="1102.47" y="664.4" width="4.8" height="46.8" fill="#ff4040"/>
<rect x="1111.29" y="668.9" width="4.8" height="42.3" fill="#00ffff"/>
<rect x="1118.84" y="670.2" width="4.8" height="41.0" fill="#ff4040"/>
<rect x="1126.39" y="668.9" width="4.8" height="42.3" fill="#00ffff"/>
<rect x="1133.94" y="662.7" width="4.8" height="48.5" fill="#00ffff"/>
<rect x="1141.49" y="676.4" width="4.8" height="34.8" fill="#ff4040"/>
<rect x="1150.30" y="680.9" width="4.8" height="30.3" fill="#00ffff"/>
<rect x="1157.85" y="679.4" width="4.8" height="31.8" fill="#ff4040"/>
<rect x="1165.40" y="677.7" width="4.8" height="33.5" fill="#ff4040"/>
<rect x="1172.96" y="677.7" width="4.8" height="33.5" fill="#ff4040"/>
<rect x="1180.51" y="670.2" width="4.8" height="41.0" fill="#ff4040"/>
<rect x="1189.32" y="658.4" width="4.8" height="52.8" fill="#ff4040"/>
<rect x="1196.87" y="671.9" width="4.8" height="39.3" fill="#00ffff"/>
<rect x="1204.42" y="673.9" width="4.8" height="37.3" fill="#00ffff"/>
<rect x="1211.97" y="679.4" width="4.8" height="31.8" fill="#00ffff"/>
<rect x="1219.52" y="674.7" width="4.8" height="36.5" fill="#00ffff"/>
<rect x="1228.33" y="677.7" width="4.8" height="33.5" fill="#ff4040"/>
<rect x="1235.89" y="680.9" width="4.8" height="30.3" fill="#ff4040"/>
<rect x="1243.44" y="679.4" width="4.8" height="31.8" fill="#00ffff"/>
<rect x="1250.99" y="679.4" width="4.8" height="31.8" fill="#00ffff"/>
<rect x="1259.80" y="676.4" width="4.8" height="34.8" fill="#ff4040"/>
<rect x="1267.35" y="667.2" width="4.8" height="44.0" fill="#ff4040"/>
<rect x="1274.90" y="668.9" width="4.8" height="42.3" fill="#00ffff"/>
<rect x="1282.45" y="671.9" width="4.8" height="39.3" fill="#00ffff"/>
<rect x="1290.01" y="671.9" width="4.8" height="39.3" fill="#00ffff"/>
<rect x="1298.82" y="668.9" width="4.8" height="42.3" fill="#ff4040"/>
<rect x="1306.37" y="668.9" width="4.8" height="42.3" fill="#ff4040"/>
<rect x="1313.92" y="665.9" width="4.8" height="45.3" fill="#ff4040"/>
<rect x="1321.47" y="670.7" width="4.8" height="40.5" fill="#00ffff"/>
<rect x="1329.02" y="676.4" width="4.8" height="34.8" fill="#ff4040"/>
<rect x="1337.83" y="673.4" width="4.8" height="37.8" fill="#00ffff"/>
<rect x="1345.38" y="671.9" width="4.8" height="39.3" fill="#00ffff"/>
<rect x="1352.94" y="677.7" width="4.8" height="33.5" fill="#ff4040"/>
<rect x="1360.49" y="677.7" width="4.8" height="33.5" fill="#00ffff"/>
<rect x="1368.04" y="677.7" width="4.8" height="33.5" fill="#ff4040"/>
<rect x="1376.85" y="676.4" width="4.8" height="34.8" fill="#00ffff"/>
<rect x="1384.40" y="679.4" width="4.8" height="31.8" fill="#ff4040"/>
<rect x="1391.95" y="676.4" width="4.8" height="34.8" fill="#ff4040"/>
<rect x="1399.50" y="677.7" width="4.8" height="33.5" fill="#00ffff"/>
<rect x="1407.06" y="679.4" width="4.8" height="31.8" fill="#ff4040"/>
<rect x="1415.87" y="670.2" width="4.8" height="41.0" fill="#00ffff"/>
<rect x="1423.42" y="665.9" width="4.8" height="45.3" fill="#ff4040"/>
<rect x="1430.97" y="667.2" width="4.8" height="44.0" fill="#00ffff"/>
<rect x="1438.52" y="676.4" width="4.8" height="34.8" fill="#00ffff"/>
<polyline points="3.6,627.6 11.2,623.9 20.0,620.1 27.5,615.1 35.1,611.4 42.6,603.8 50.2,596.3 59.0,590.1 66.5,590.8 74.1,593.0 81.6,593.4 89.2,592.7 98.0,592.9 105.5,596.0 113.1,597.8 120.6,602.7 128.2,606.9 137.0,612.1 144.6,613.2 152.1,617.1 159.7,621.2 167.2,623.3 176.0,622.4 183.6,620.7 191.1,618.3 198.7,616.4 206.2,615.0 215.0,611.6 222.6,612.0 230.1,611.3 237.7,609.8 246.5,609.8 254.1,610.4 261.6,613.1 269.2,615.4 276.7,617.9 285.5,621.6 293.1,625.4 300.6,626.3 308.2,628.8 315.7,629.7 324.5,629.8 332.1,631.4 339.6,634.7 347.2,635.4 354.7,637.2 363.6,639.1 371.1,642.9 378.7,643.9 386.2,645.6 393.8,648.1 402.6,649.6 410.1,650.8 417.7,649.7 425.2,652.6 434.0,653.7 441.6,654.6 449.1,654.6 456.7,657.5 464.2,657.9 473.1,657.6 480.6,658.3 488.2,659.3 495.7,660.8 503.3,660.7 512.1,661.0 519.6,661.5 527.2,661.9 534.7,661.9 542.3,660.3 551.1,659.9 558.6,659.5 566.2,659.0 573.7,660.1 581.3,661.7 590.1,661.0 597.7,658.3 605.2,655.6 612.8,654.5 620.3,654.7 629.1,656.3 636.7,656.7 644.2,657.8 651.8,655.4 660.6,653.7 668.1,654.2 675.7,656.5 683.2,659.8 690.8,659.9 699.6,662.4 707.2,663.3 714.7,664.7 722.3,665.7 729.8,667.9 738.6,669.9 746.2,671.5 753.7,672.8 761.3,673.1 768.8,673.8 777.6,674.2 785.2,674.0 792.7,673.9 800.3,673.7 807.8,674.5 816.7,674.4 824.2,674.6 831.8,674.8 839.3,673.7 848.1,674.0 855.7,671.4 863.2,671.2 870.8,671.1 878.3,671.1 887.1,671.1 894.7,671.2 902.2,671.2 909.8,670.8 917.3,671.9 926.2,670.7 933.7,671.7 941.3,671.6 948.8,671.6 956.4,671.5 965.2,670.5 972.7,668.5 980.3,667.3 987.8,666.8 995.4,665.6 1004.2,665.9 1011.7,665.9 1019.3,664.2 1026.8,660.3 1035.7,658.9 1043.2,657.0 1050.8,656.3 1058.3,655.2 1065.9,654.7 1074.7,653.9 1082.2,653.4 1089.8,654.0 1097.3,655.7 1104.9,658.7 1113.7,659.8 1121.2,661.9 1128.8,663.7 1136.3,664.6 1143.9,666.1 1152.7,668.7 1160.3,671.1 1167.8,672.0 1175.4,672.7 1182.9,673.3 1191.7,672.3 1199.3,672.4 1206.8,672.9 1214.4,674.6 1221.9,674.4 1230.7,674.1 1238.3,674.3 1245.8,674.4 1253.4,674.6 1262.2,675.2 1269.8,676.1 1277.3,675.8 1284.9,675.6 1292.4,674.9 1301.2,674.3 1308.8,673.4 1316.3,671.9 1323.9,671.0 1331.4,670.7 1340.2,670.4 1347.8,670.9 1355.3,671.8 1362.9,672.4 1370.4,672.9 1379.2,673.7 1386.8,674.7 1394.4,675.8 1401.9,676.5 1409.5,676.8 1418.3,676.5 1425.8,675.9 1433.4,674.8 1440.9,674.7" fill="none" stroke="#ffff00" stroke-width="1.25" stroke-linejoin="round"/>
<polyline points="3.6,603.8 11.2,601.3 20.0,598.8 27.5,599.6 35.1,606.1 42.6,602.2 50.2,590.5 59.0,579.2 66.5,584.3 74.1,579.9 81.6,584.7 89.2,594.8 98.0,606.5 105.5,607.8 113.1,615.7 120.6,620.7 128.2,618.9 137.0,617.7 144.6,618.6 152.1,618.6 159.7,621.7 167.2,627.7 176.0,627.1 183.6,622.9 191.1,618.0 198.7,611.1 206.2,602.3 215.0,596.1 222.6,601.2 230.1,604.5 237.7,608.4 246.5,617.2 254.1,624.7 261.6,625.0 269.2,626.2 276.7,627.3 285.5,626.1 293.1,626.1 300.6,627.6 308.2,631.5 315.7,632.1 324.5,633.6 332.1,636.6 339.6,641.7 347.2,639.3 354.7,642.3 363.6,644.6 371.1,649.1 378.7,646.1 386.2,651.9 393.8,654.0 402.6,654.6 410.1,652.4 417.7,653.4 425.2,653.4 434.0,653.4 441.6,654.6 449.1,656.9 456.7,661.6 464.2,662.5 473.1,661.9 480.6,661.9 488.2,661.7 495.7,660.0 503.3,658.9 512.1,660.2 519.6,661.1 527.2,662.2 534.7,663.9 542.3,661.7 551.1,659.6 558.6,657.9 566.2,655.7 573.7,656.3 581.3,661.7 590.1,662.3 597.7,658.7 605.2,655.4 612.8,652.7 620.3,647.6 629.1,650.3 636.7,654.8 644.2,660.2 651.8,658.1 660.6,659.9 668.1,658.2 675.7,658.2 683.2,659.4 690.8,661.7 699.6,664.9 707.2,668.4 714.7,671.2 722.3,672.1 729.8,674.1 738.6,674.9 746.2,674.6 753.7,674.3 761.3,674.1 768.8,673.5 777.6,673.5 785.2,673.5 792.7,673.5 800.3,673.2 807.8,675.6 816.7,675.3 824.2,675.7 831.8,676.0 839.3,674.1 848.1,672.4 855.7,667.5 863.2,666.6 870.8,666.2 878.3,668.0 887.1,669.7 894.7,674.8 902.2,675.7 909.8,675.4 917.3,675.8 926.2,671.6 933.7,668.6 941.3,667.5 948.8,667.8 956.4,667.1 965.2,669.3 972.7,668.4 980.3,667.2 987.8,665.9 995.4,664.2 1004.2,662.6 1011.7,663.4 1019.3,661.3 1026.8,654.8 1035.7,653.6 1043.2,651.5 1050.8,649.1 1058.3,649.1 1065.9,654.6 1074.7,654.2 1082.2,655.3 1089.8,658.9 1097.3,662.2 1104.9,662.8 1113.7,665.5 1121.2,668.5 1128.8,668.5 1136.3,667.0 1143.9,669.4 1152.7,671.8 1160.3,673.7 1167.8,675.4 1175.4,678.4 1182.9,677.2 1191.7,672.7 1199.3,671.2 1206.8,670.4 1214.4,670.8 1221.9,671.7 1230.7,675.5 1238.3,677.3 1245.8,678.4 1253.4,678.4 1262.2,678.8 1269.8,676.7 1277.3,674.3 1284.9,672.8 1292.4,671.3 1301.2,669.8 1308.8,670.1 1316.3,669.5 1323.9,669.3 1331.4,670.2 1340.2,671.1 1347.8,671.7 1355.3,674.0 1362.9,675.4 1370.4,675.7 1379.2,676.3 1386.8,677.8 1394.4,677.5 1401.9,677.5 1409.5,677.9 1418.3,676.6 1425.8,673.9 1433.4,672.1 1440.9,671.8" fill="none" stroke="#ececec" stroke-width="1.25" stroke-linejoin="round"/>
<polyline points="3.6,769.6 11.2,771.1 20.0,770.0 27.5,770.6 35.1,770.7 42.6,769.5 50.2,768.7 59.0,776.5 66.5,784.2 74.1,789.1 81.6,794.1 89.2,802.6 98.0,809.4 105.5,809.1 113.1,806.2 120.6,801.4 128.2,796.2 137.0,791.3 144.6,791.9 152.1,798.5 159.7,806.0 167.2,815.7 176.0,816.7 183.6,811.0 191.1,803.5 198.7,795.3 206.2,787.9 215.0,783.0 222.6,779.8 230.1,777.8 237.7,778.6 246.5,783.5 254.1,792.6 261.6,795.7 269.2,794.8 276.7,793.5 285.5,789.4 293.1,790.2 300.6,795.0 308.2,800.6 315.7,810.7 324.5,821.7 332.1,831.1 339.6,838.0 347.2,843.7 354.7,847.5 363.6,850.7 371.1,853.9 378.7,853.4 386.2,852.2 393.8,851.3 402.6,847.9 410.1,839.1 417.7,833.9 425.2,832.1 434.0,828.4 441.6,825.8 449.1,827.9 456.7,832.0 464.2,831.9 473.1,828.3 480.6,823.2 488.2,817.2 495.7,812.4 503.3,809.7 512.1,811.5 519.6,815.3 527.2,822.4 534.7,827.4 542.3,823.0 551.1,815.8 558.6,808.1 566.2,804.3 573.7,802.0 581.3,800.5 590.1,798.5 597.7,793.8 605.2,788.5 612.8,783.1 620.3,780.7 629.1,780.3 636.7,779.0 644.2,779.2 651.8,776.9 660.6,774.2 668.1,775.3 675.7,779.3 683.2,783.3 690.8,793.1 699.6,804.5 707.2,816.1 714.7,826.3 722.3,833.4 729.8,835.6 738.6,835.8 746.2,835.1 753.7,836.9 761.3,834.0 768.8,835.1 777.6,835.7 785.2,832.2 792.7,825.0 800.3,814.9 807.8,805.5 816.7,797.9 824.2,794.9 831.8,797.5 839.3,804.9 848.1,815.3 855.7,823.5 863.2,830.3 870.8,834.4 878.3,837.9 887.1,838.2 894.7,837.8 902.2,834.2 909.8,828.8 917.3,820.2 926.2,809.5 933.7,799.9 941.3,792.0 948.8,785.3 956.4,779.7 965.2,778.1 972.7,776.2 980.3,776.0 987.8,777.5 995.4,781.4 1004.2,780.9 1011.7,778.2 1019.3,774.7 1026.8,773.5 1035.7,772.7 1043.2,770.6 1050.8,768.9 1058.3,768.8 1065.9,768.1 1074.7,767.8 1082.2,773.4 1089.8,784.1 1097.3,793.5 1104.9,799.8 1113.7,808.0 1121.2,814.8 1128.8,823.8 1136.3,832.8 1143.9,839.5 1152.7,845.7 1160.3,850.0 1167.8,850.6 1175.4,846.5 1182.9,838.2 1191.7,827.2 1199.3,817.8 1206.8,811.3 1214.4,806.9 1221.9,807.6 1230.7,810.4 1238.3,814.0 1245.8,819.0 1253.4,824.1 1262.2,826.5 1269.8,824.0 1277.3,821.1 1284.9,821.4 1292.4,824.6 1301.2,822.8 1308.8,816.4 1316.3,809.3 1323.9,804.5 1331.4,801.4 1340.2,801.2 1347.8,808.2 1355.3,815.6 1362.9,823.3 1370.4,829.9 1379.2,837.1 1386.8,841.2 1394.4,840.8 1401.9,840.9 1409.5,840.3 1418.3,840.7 1425.8,837.7 1433.4,833.0 1440.9,828.9" fill="none" stroke="#ffff00" stroke-width="1.25" stroke-linejoin="round"/>
<polyline points="3.6,769.6 11.2,774.1 20.0,767.9 27.5,771.7 35.1,770.9 42.6,767.1 50.2,767.1 59.0,792.2 66.5,799.6 74.1,798.8 81.6,804.0 89.2,819.6 98.0,823.0 105.5,808.6 113.1,800.2 120.6,791.9 128.2,785.8 137.0,781.5 144.6,793.1 152.1,811.6 159.7,821.2 167.2,835.2 176.0,818.5 183.6,799.6 191.1,788.7 198.7,778.8 206.2,773.2 215.0,773.0 222.6,773.6 230.1,773.6 237.7,780.4 246.5,793.2 254.1,810.9 261.6,801.9 269.2,793.0 276.7,791.0 285.5,781.1 293.1,791.9 300.6,804.4 308.2,812.0 315.7,830.9 324.5,843.6 332.1,849.9 339.6,851.9 347.2,855.0 354.7,855.2 363.6,857.0 371.1,860.3 378.7,852.6 386.2,849.6 393.8,849.6 402.6,840.9 410.1,821.5 417.7,823.6 425.2,828.6 434.0,821.1 441.6,820.5 449.1,832.2 456.7,840.0 464.2,831.8 473.1,821.1 480.6,812.8 488.2,805.2 495.7,802.8 503.3,804.4 512.1,815.1 519.6,822.9 527.2,836.5 534.7,837.4 542.3,814.2 551.1,801.5 558.6,792.5 566.2,796.7 573.7,797.5 581.3,797.4 590.1,794.5 597.7,784.6 605.2,777.7 612.8,772.5 620.3,775.9 629.1,779.6 636.7,776.4 644.2,779.5 651.8,772.3 660.6,768.7 668.1,777.5 675.7,787.3 683.2,791.4 690.8,812.6 699.6,827.5 707.2,839.4 714.7,846.5 722.3,847.5 729.8,840.2 738.6,836.1 746.2,833.8 753.7,840.4 761.3,828.3 768.8,837.4 777.6,836.7 785.2,825.3 792.7,810.5 800.3,794.8 807.8,786.8 816.7,782.6 824.2,788.9 831.8,802.7 839.3,819.6 848.1,836.0 855.7,840.0 863.2,844.0 870.8,842.6 878.3,845.0 887.1,838.7 894.7,836.9 902.2,827.2 909.8,817.8 917.3,803.2 926.2,788.1 933.7,780.8 941.3,776.0 948.8,772.0 956.4,768.5 965.2,774.9 972.7,772.5 980.3,775.7 987.8,780.5 995.4,789.1 1004.2,780.1 1011.7,772.6 1019.3,767.7 1026.8,771.2 1035.7,770.9 1043.2,766.6 1050.8,765.4 1058.3,768.5 1065.9,766.7 1074.7,767.3 1082.2,784.7 1089.8,805.5 1097.3,812.1 1104.9,812.5 1113.7,824.4 1121.2,828.3 1128.8,841.8 1136.3,850.8 1143.9,852.9 1152.7,858.2 1160.3,858.7 1167.8,851.6 1175.4,838.4 1182.9,821.5 1191.7,805.1 1199.3,799.1 1206.8,798.4 1214.4,798.0 1221.9,809.0 1230.7,816.0 1238.3,821.2 1245.8,829.0 1253.4,834.4 1262.2,831.3 1269.8,818.9 1277.3,815.5 1284.9,821.9 1292.4,831.0 1301.2,819.1 1308.8,803.7 1316.3,795.0 1323.9,795.0 1331.4,795.0 1340.2,800.9 1347.8,822.2 1355.3,830.3 1362.9,838.7 1370.4,843.1 1379.2,851.5 1386.8,849.4 1394.4,839.9 1401.9,841.0 1409.5,839.3 1418.3,841.5 1425.8,831.6 1433.4,823.7 1440.9,820.5" fill="none" stroke="#ececec" stroke-width="1.25" stroke-linejoin="round"/>
<polyline points="3.6,769.6 11.2,780.2 20.0,763.7 27.5,773.9 35.1,771.3 42.6,762.4 50.2,764.0 59.0,823.5 66.5,830.5 74.1,818.3 81.6,823.9 89.2,853.7 98.0,850.2 105.5,807.6 113.1,788.3 120.6,772.9 128.2,765.0 137.0,761.8 144.6,795.5 152.1,837.9 159.7,851.5 167.2,874.0 176.0,822.1 183.6,776.9 191.1,758.9 198.7,745.9 206.2,743.7 215.0,753.1 222.6,761.1 230.1,765.3 237.7,784.0 246.5,812.6 254.1,847.5 261.6,814.2 269.2,789.3 276.7,786.0 285.5,764.4 293.1,795.4 300.6,823.3 308.2,834.7 315.7,871.3 324.5,887.3 332.1,887.6 339.6,879.7 347.2,877.5 354.7,870.5 363.6,869.7 371.1,873.2 378.7,850.8 386.2,844.5 393.8,846.3 402.6,827.1 410.1,786.3 417.7,802.9 425.2,821.6 434.0,806.3 441.6,810.0 449.1,840.8 456.7,856.1 464.2,831.5 473.1,806.7 480.6,792.2 488.2,781.4 495.7,783.5 503.3,793.8 512.1,822.3 519.6,838.1 527.2,864.7 534.7,857.4 542.3,796.6 551.1,772.9 558.6,761.5 566.2,781.7 573.7,788.3 581.3,791.2 590.1,786.5 597.7,766.0 605.2,756.3 612.8,751.1 620.3,766.2 629.1,778.0 636.7,771.2 644.2,780.2 651.8,763.1 660.6,757.8 668.1,781.8 675.7,803.4 683.2,807.6 690.8,851.5 699.6,873.3 707.2,885.8 714.7,887.0 722.3,875.9 729.8,849.3 738.6,836.7 746.2,831.1 753.7,847.4 761.3,816.8 768.8,841.8 777.6,838.9 785.2,811.4 792.7,781.6 800.3,754.6 807.8,749.2 816.7,752.0 824.2,777.0 831.8,813.1 839.3,849.1 848.1,877.5 855.7,873.0 863.2,871.4 870.8,858.9 878.3,859.0 887.1,839.8 894.7,835.2 902.2,813.1 909.8,796.0 917.3,769.1 926.2,745.2 933.7,742.5 941.3,744.0 948.8,745.3 956.4,746.2 965.2,768.4 972.7,765.0 980.3,775.0 987.8,786.4 995.4,804.6 1004.2,778.3 1011.7,761.6 1019.3,753.7 1026.8,766.6 1035.7,767.5 1043.2,758.4 1050.8,758.4 1058.3,768.1 1065.9,764.0 1074.7,766.2 1082.2,807.2 1089.8,848.4 1097.3,849.3 1104.9,838.0 1113.7,857.1 1121.2,855.4 1128.8,877.9 1136.3,886.8 1143.9,879.7 1152.7,883.1 1160.3,875.9 1167.8,853.8 1175.4,822.1 1182.9,788.2 1191.7,761.1 1199.3,761.6 1206.8,772.6 1214.4,780.2 1221.9,811.9 1230.7,827.2 1238.3,835.6 1245.8,849.0 1253.4,855.0 1262.2,840.8 1269.8,808.7 1277.3,804.2 1284.9,823.0 1292.4,843.8 1301.2,811.8 1308.8,778.3 1316.3,766.4 1323.9,776.0 1331.4,782.3 1340.2,800.2 1347.8,850.2 1355.3,859.7 1362.9,869.4 1370.4,869.6 1379.2,880.3 1386.8,865.8 1394.4,838.3 1401.9,841.3 1409.5,837.3 1418.3,843.1 1425.8,819.4 1433.4,805.0 1440.9,803.9" fill="none" stroke="#ff00ff" stroke-width="1.25" stroke-linejoin="round"/>
<line x1="0" y1="87" x2="1468.3" y2="309.5" class="yl" style="stroke-opacity:.55"/>
<line x1="238" y1="520" x2="1468.3" y2="327" class="yl" style="stroke-opacity:.55"/>
<polygon points="56.70,201.55 60.90,201.55 60.90,209.35 64.95,209.35 58.80,216.40 52.65,209.35 56.70,209.35" fill="none" stroke="#00ee00" stroke-width="1.5" stroke-linejoin="miter"/>
<polygon points="117.90,179.05 122.10,179.05 122.10,186.85 126.15,186.85 120.00,193.90 113.85,186.85 117.90,186.85" fill="none" stroke="#00ee00" stroke-width="1.5" stroke-linejoin="miter"/>
<polygon points="134.30,174.55 138.50,174.55 138.50,182.35 142.55,182.35 136.40,189.40 130.25,182.35 134.30,182.35" fill="none" stroke="#00ee00" stroke-width="1.5" stroke-linejoin="miter"/>
<polygon points="226.90,41.25 231.10,41.25 231.10,49.05 235.15,49.05 229.00,56.10 222.85,49.05 226.90,49.05" fill="none" stroke="#00ee00" stroke-width="1.5" stroke-linejoin="miter"/>
<polygon points="617.60,262.05 621.80,262.05 621.80,269.85 625.85,269.85 619.70,276.90 613.55,269.85 617.60,269.85" fill="none" stroke="#00ee00" stroke-width="1.5" stroke-linejoin="miter"/>
<polygon points="665.60,239.55 669.80,239.55 669.80,247.35 673.85,247.35 667.70,254.40 661.55,247.35 665.60,247.35" fill="none" stroke="#00ee00" stroke-width="1.5" stroke-linejoin="miter"/>
<polygon points="821.20,312.75 825.40,312.75 825.40,320.55 829.45,320.55 823.30,327.60 817.15,320.55 821.20,320.55" fill="none" stroke="#00ee00" stroke-width="1.5" stroke-linejoin="miter"/>
<polygon points="962.30,375.75 966.50,375.75 966.50,383.55 970.55,383.55 964.40,390.60 958.25,383.55 962.30,383.55" fill="none" stroke="#00ee00" stroke-width="1.5" stroke-linejoin="miter"/>
<polygon points="977.60,345.75 981.80,345.75 981.80,353.55 985.85,353.55 979.70,360.60 973.55,353.55 977.60,353.55" fill="none" stroke="#00ee00" stroke-width="1.5" stroke-linejoin="miter"/>
<polygon points="1062.60,237.55 1066.80,237.55 1066.80,245.35 1070.85,245.35 1064.70,252.40 1058.55,245.35 1062.60,245.35" fill="none" stroke="#00ee00" stroke-width="1.5" stroke-linejoin="miter"/>
<polygon points="1196.20,260.25 1200.40,260.25 1200.40,268.05 1204.45,268.05 1198.30,275.10 1192.15,268.05 1196.20,268.05" fill="none" stroke="#00ee00" stroke-width="1.5" stroke-linejoin="miter"/>
<polygon points="1328.30,275.05 1332.50,275.05 1332.50,282.85 1336.55,282.85 1330.40,289.90 1324.25,282.85 1328.30,282.85" fill="none" stroke="#00ee00" stroke-width="1.5" stroke-linejoin="miter"/>
<polygon points="1016.60,214.00 1022.80,214.00 1022.80,221.60 1027.30,221.60 1019.70,230.80 1012.10,221.60 1016.60,221.60" fill="#00ee00"/>
<polygon points="316.50,230.60 324.10,239.80 319.60,239.80 319.60,247.40 313.40,247.40 313.40,239.80 308.90,239.80" fill="#ff0000"/>
<polygon points="378.80,424.50 386.40,433.70 381.90,433.70 381.90,441.30 375.70,441.30 375.70,433.70 371.20,433.70" fill="#ff0000"/>
<polygon points="463.80,428.50 471.40,437.70 466.90,437.70 466.90,445.30 460.70,445.30 460.70,437.70 456.20,437.70" fill="#ff0000"/>
<polygon points="541.40,411.50 549.00,420.70 544.50,420.70 544.50,428.30 538.30,428.30 538.30,420.70 533.80,420.70" fill="#ff0000"/>
<polygon points="721.50,367.70 729.10,376.90 724.60,376.90 724.60,384.50 718.40,384.50 718.40,376.90 713.90,376.90" fill="#ff0000"/>
<polygon points="784.50,365.50 792.10,374.70 787.60,374.70 787.60,382.30 781.40,382.30 781.40,374.70 776.90,374.70" fill="#ff0000"/>
<polygon points="877.60,481.30 885.20,490.50 880.70,490.50 880.70,498.10 874.50,498.10 874.50,490.50 870.00,490.50" fill="#ff0000"/>
<polygon points="1114.00,377.50 1121.60,386.70 1117.10,386.70 1117.10,394.30 1110.90,394.30 1110.90,386.70 1106.40,386.70" fill="#ff0000"/>
<polygon points="1174.80,356.30 1182.40,365.50 1177.90,365.50 1177.90,373.10 1171.70,373.10 1171.70,365.50 1167.20,365.50" fill="#ff0000"/>
<polygon points="1386.00,386.30 1393.60,395.50 1389.10,395.50 1389.10,403.10 1382.90,403.10 1382.90,395.50 1378.40,395.50" fill="#ff0000"/>
<polygon points="201.10,14.40 208.70,23.60 204.20,23.60 204.20,31.20 198.00,31.20 198.00,23.60 193.50,23.60" fill="#ff0000"/>
<line x1="0" y1="250.8" x2="1468.3" y2="250.8" class="yh"/>
<line x1="0" y1="323.0" x2="1468.3" y2="323.0" class="yh"/>
<line x1="0" y1="387.6" x2="1468.3" y2="387.6" class="yh"/>
<line x1="0" y1="87" x2="1468.3" y2="309.5" class="yl"/>
<line x1="238" y1="520" x2="1468.3" y2="327" class="yl"/>
<circle cx="225" cy="23.3" r="9.2" fill="#6c6c6c"/>
<polyline points="220.2,22.1 225,25.900000000000002 229.6,22.1" fill="none" stroke="#262626" stroke-width="1.6"/>
<circle cx="12.0" cy="550.2" r="9.2" fill="#6c6c6c"/>
<polyline points="7.2,549.0 12.0,552.8000000000001 16.6,549.0" fill="none" stroke="#262626" stroke-width="1.6"/>
<circle cx="12.0" cy="725.4" r="9.2" fill="#6c6c6c"/>
<polyline points="7.2,724.1999999999999 12.0,728.0 16.6,724.1999999999999" fill="none" stroke="#262626" stroke-width="1.6"/>
<polygon points="1427,16 1435.3,24.3 1427,32.6 1418.7,24.3" fill="none" stroke="#868686" stroke-width="1.4"/>
<rect x="1447" y="17.2" width="16" height="14.4" rx="2.6" fill="none" stroke="#7c7c7c" stroke-width="1.8"/>
<rect x="1456" y="18.8" width="5" height="11" fill="#8a8a8a"/>
<rect x="1415.8000000000002" y="37" width="3.2" height="3.2" fill="#ff00ff"/>
<rect x="1423.4" y="37" width="3.2" height="3.2" fill="#ff00ff"/>
<rect x="1431.0" y="37" width="3.2" height="3.2" fill="#ff00ff"/>
<rect x="1438.7" y="37" width="3.2" height="3.2" fill="#ff00ff"/>
<rect x="0" y="10" width="1" height="879" fill="#2c2c2c"/>
<polygon points="-1,447.6 0.3,447.6 12.3,464.3 12.3,510.6 0.3,530.2 -1,530.2" fill="#444" fill-opacity=".88" stroke="#727272" stroke-width="1.5"/>
<rect x="0" y="449" width="1.1" height="80" fill="#707070"/>
<polygon points="1.6,481 9,488 1.6,495" fill="#e8a000"/>
</svg>
<div class="t" id="title"><b style="letter-spacing:.55px">上证指数</b><b style="margin-left:.4px">(</b><b style="margin-left:-1.7px">日线</b><b style="margin-left:1.3px">.</b>前复权<b style="margin-left:.7px">)</b></div>
<div class="t" id="vol" style="top:538.10px"><span style="left:26.80px;transform:scaleX(0.9202)">VOLUME:</span> <span style="left:109.32px;transform:scaleX(0.9817)">133862208.00</span> <span style="left:237.27px;transform:scaleX(0.9286)">MA5:</span> <span style="left:280.72px;transform:scaleX(0.9792)">152907248.00</span> <span class="y" style="left:408.30px;transform:scaleX(0.8981)">MA10:</span> <span class="y" style="left:462.22px;transform:scaleX(0.9783)">142640944.00</span></div>
<div class="t" id="kdj" style="top:713.90px"><span style="left:27.04px;transform:scaleX(0.9573)">KDJ(9,3,3)</span> <span style="left:121.72px;transform:scaleX(0.8750)">K:</span> <span style="left:143.60px;transform:scaleX(0.9191)">43.57</span> <span class="y" style="left:197.12px;transform:scaleX(0.8824)">D:</span> <span class="y" style="left:219.66px;transform:scaleX(0.9391)">36.18</span> <span class="m" style="left:273.20px;transform:scaleX(0.8077)">J:</span> <span class="m" style="left:290.94px;transform:scaleX(0.9630)">58.36</span></div>
<div class="t r" style="left:1485.6px;top:550.90px;transform:scaleX(.95);transform-origin:0 0">60</div>
<div class="t r" style="left:1485.6px;top:600.90px;transform:scaleX(.95);transform-origin:0 0">40</div>
<div class="t r" style="left:1485.6px;top:650.50px;transform:scaleX(.95);transform-origin:0 0">20</div>
<div class="t r" style="left:1472.4px;top:689.70px;transform:scaleX(.95);transform-origin:0 0">X1万</div>
<div class="t r" style="left:1480.3px;top:746.50px;transform:scaleX(.95);transform-origin:0 0">100</div>
<div class="t r" style="left:1491.2px;top:769.20px;transform:scaleX(.95);transform-origin:0 0">80</div>
<div class="t r" style="left:1491.2px;top:802.20px;transform:scaleX(.95);transform-origin:0 0">50</div>
<div class="t r" style="left:1491.2px;top:835.20px;transform:scaleX(.95);transform-origin:0 0">20</div>
<div class="t r" style="left:1496.0px;top:62.30px;transform:scaleX(.95);transform-origin:0 0">3250</div>
<div class="t r" style="left:1496.0px;top:104.30px;transform:scaleX(.95);transform-origin:0 0">3200</div>
<div class="t r" style="left:1496.0px;top:146.50px;transform:scaleX(.95);transform-origin:0 0">3150</div>
<div class="t r" style="left:1496.0px;top:188.30px;transform:scaleX(.95);transform-origin:0 0">3100</div>
<div class="t r" style="left:1496.0px;top:230.50px;transform:scaleX(.95);transform-origin:0 0">3050</div>
<div class="t r" style="left:1496.0px;top:273.50px;transform:scaleX(.95);transform-origin:0 0">3000</div>
<div class="t r" style="left:1496.0px;top:315.90px;transform:scaleX(.95);transform-origin:0 0">2950</div>
<div class="t r" style="left:1496.0px;top:358.00px;transform:scaleX(.95);transform-origin:0 0">2900</div>
<div class="t r" style="left:1496.0px;top:399.90px;transform:scaleX(.95);transform-origin:0 0">2850</div>
<div class="t r" style="left:1496.0px;top:441.80px;transform:scaleX(.95);transform-origin:0 0">2800</div>
<div class="t r" style="left:1496.0px;top:485.40px;transform:scaleX(.95);transform-origin:0 0">2750</div>
</body></html>
